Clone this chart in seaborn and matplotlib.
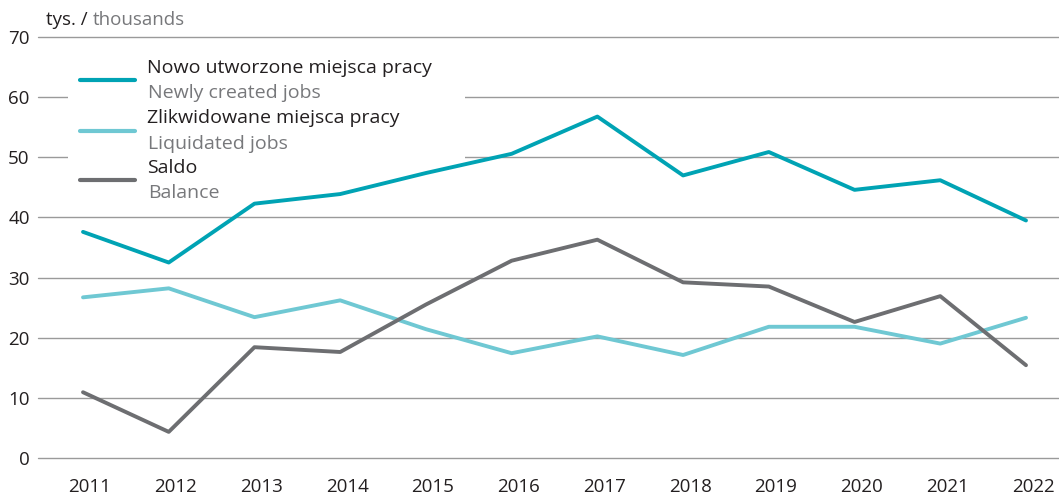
import numpy as np
import pandas as pd
import matplotlib
matplotlib.use('Agg')
import matplotlib.pyplot as plt
import matplotlib.transforms as mtransforms
import seaborn as sns
from matplotlib.patches import Rectangle

years = list(range(2011, 2023))
created = [37.6, 32.5, 42.3, 43.9, 47.4, 50.6, 56.8, 47.0, 50.9, 44.6, 46.2, 39.5]
liquidated = [26.7, 28.2, 23.4, 26.2, 21.4, 17.4, 20.2, 17.1, 21.8, 21.8, 19.0, 23.3]
balance = [10.9, 4.3, 18.4, 17.6, 25.5, 32.8, 36.3, 29.2, 28.5, 22.6, 26.9, 15.4]

series_pl = ['Nowo utworzone miejsca pracy', 'Zlikwidowane miejsca pracy', 'Saldo']
series_en = ['Newly created jobs', 'Liquidated jobs', 'Balance']
colors = ['#00a3b4', '#6fc8d3', '#6d6e71']

df = pd.DataFrame({
    'year': years * 3,
    'value': created + liquidated + balance,
    'series': [s for s in series_pl for _ in years],
})

sns.set_style('white')
plt.rcParams['font.family'] = ['Open Sans', 'DejaVu Sans']

W, H = 1059, 496
fig = plt.figure(figsize=(W / 100, H / 100), dpi=100)

def fx(x):
    return x / W

def fy(y):
    return 1 - y / H

y0, y70 = 457.7, 37.3
ax = fig.add_axes([fx(38), fy(y0), fx(W - 38), (y0 - y70) / H])

sns.lineplot(data=df, x='year', y='value', hue='series', palette=colors,
             linewidth=2.8, ax=ax, legend=False, zorder=3)

ax.set_xlim(2011 - 0.525, 2022 + 0.385)
ax.set_ylim(0, 70)
ax.set_yticks(range(0, 71, 10))
ax.set_xticks(years)
ax.set_xlabel('')
ax.set_ylabel('')
for s in ax.spines.values():
    s.set_visible(False)
ax.grid(True, axis='y', color='#9a9a9a', linewidth=1)
ax.grid(False, axis='x')
for gl in ax.get_ygridlines():
    gl.set_clip_on(False)
ax.set_axisbelow(True)
ax.tick_params(axis='y', length=0, pad=6, labelsize=13.5, labelcolor='#231f20')
ax.tick_params(axis='x', length=0, pad=14.5, labelsize=13.5, labelcolor='#231f20')
shift = mtransforms.ScaledTranslation(7 / 100, 0, fig.dpi_scale_trans)
for lab in ax.get_xticklabels():
    lab.set_transform(lab.get_transform() + shift)

# white box behind the legend block, hiding gridlines
ax.add_patch(Rectangle((fx(68), fy(205)), fx(465 - 68), (205 - 50) / H,
                       transform=fig.transFigure, facecolor='white',
                       edgecolor='none', zorder=1.5))

# legend drawn by hand
line_y = [80, 131, 180]
pl_y = [68, 118, 168]
en_y = [93, 144, 193]
for i in range(3):
    fig.add_artist(plt.Line2D([fx(80), fx(135)], [fy(line_y[i])] * 2,
                              color=colors[i], linewidth=3,
                              solid_capstyle='round'))
    fig.text(fx(147), fy(pl_y[i]), series_pl[i], fontsize=14,
             color='#231f20', va='center', ha='left')
    fig.text(fx(148), fy(en_y[i]), series_en[i], fontsize=14,
             color='#77787b', va='center', ha='left')

t = fig.text(fx(46), fy(20), 'tys. / ', fontsize=13.5, color='#231f20',
             va='center', ha='left')
fig.canvas.draw()
bb = t.get_window_extent()
fig.text(bb.x1 / W, fy(20), 'thousands', fontsize=13.5, color='#77787b',
         va='center', ha='left')

fig.savefig('out.png', dpi=100)
